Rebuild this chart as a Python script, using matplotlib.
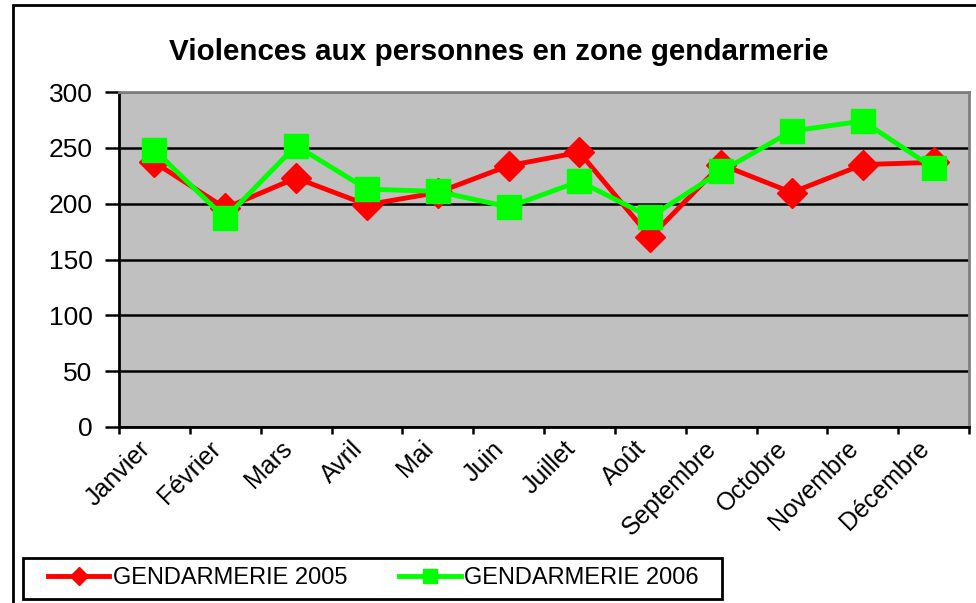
import numpy as np
import matplotlib.pyplot as plt
from matplotlib.patches import Rectangle
from matplotlib.transforms import ScaledTranslation

plt.rcParams['font.family'] = ['Liberation Sans', 'DejaVu Sans']

# Monthly values
mois = ['Janvier', 'Février', 'Mars', 'Avril', 'Mai', 'Juin', 'Juillet',
        'Août', 'Septembre', 'Octobre', 'Novembre', 'Décembre']
gend_2005 = [237, 196, 223, 199, 210, 234, 246, 170, 235, 210, 235, 237]
gend_2006 = [248, 187, 252, 213, 211, 197, 220, 188, 229, 265, 274, 232]
yticks = [0, 50, 100, 150, 200, 250, 300]

fig = plt.figure(figsize=(9.76, 6.03), dpi=100)
W, H = 976, 603
ax = fig.add_axes([119 / W, 1 - 427 / H, 850 / W, 335 / H])
ax.set_facecolor('#c0c0c0')

x = np.arange(len(mois))
ax.plot(x, gend_2005, '-', color='#ff0000', lw=3.5, marker='D', ms=15,
        mec='#ff0000', label='GENDARMERIE 2005', zorder=3)
ax.plot(x, gend_2006, '-', color='#00ff00', lw=3.5, marker='s', ms=17,
        mec='#00ff00', label='GENDARMERIE 2006', zorder=4)

ax.set_xlim(-0.5, len(mois) - 0.5)
ax.set_ylim(0, 300)
ax.set_yticks(yticks)
ax.tick_params(axis='y', labelsize=19, length=10, width=1.8, pad=9)
ax.yaxis.grid(True, color='black', lw=1.8)
ax.set_axisbelow(True)

# category labels at centres, tick marks between categories
ax.set_xticks(x)
ax.set_xticklabels(mois, rotation=45, ha='right', va='center',
                   rotation_mode='anchor', fontsize=18)
ax.tick_params(axis='x', length=0, pad=13)
shift = ScaledTranslation(-8 / 100, 0, fig.dpi_scale_trans)
for lab in ax.get_xticklabels():
    lab.set_transform(lab.get_transform() + shift)
ax.set_xticks(np.arange(-0.5, len(mois)), minor=True)
ax.tick_params(axis='x', which='minor', length=5, width=1.8)

for s in ['left', 'bottom']:
    ax.spines[s].set_color('black')
    ax.spines[s].set_linewidth(2)
for s in ['top', 'right']:
    ax.spines[s].set_color('#808080')
    ax.spines[s].set_linewidth(2)

fig.text(499 / W, 1 - 52 / H, 'Violences aux personnes en zone gendarmerie',
         ha='center', va='center', fontsize=21.3, fontweight='bold')

leg = fig.legend(loc='center left', bbox_to_anchor=(36 / W, 1 - 578 / H),
                 ncol=2, fontsize=17, frameon=False,
                 handlelength=2.6, handletextpad=0.15, columnspacing=2.2,
                 borderpad=0.0, markerscale=0.6)
fig.patches.append(Rectangle((23 / W, 1 - 599 / H), 699 / W, 41 / H,
                             fill=False, ec='black', lw=2,
                             transform=fig.transFigure))

fig.patches.append(Rectangle((13 / W, -0.1), 1.2, 1.1 - 5 / H, fill=False,
                             ec='black', lw=2, transform=fig.transFigure))

fig.savefig('out.png', dpi=100, facecolor='white')
